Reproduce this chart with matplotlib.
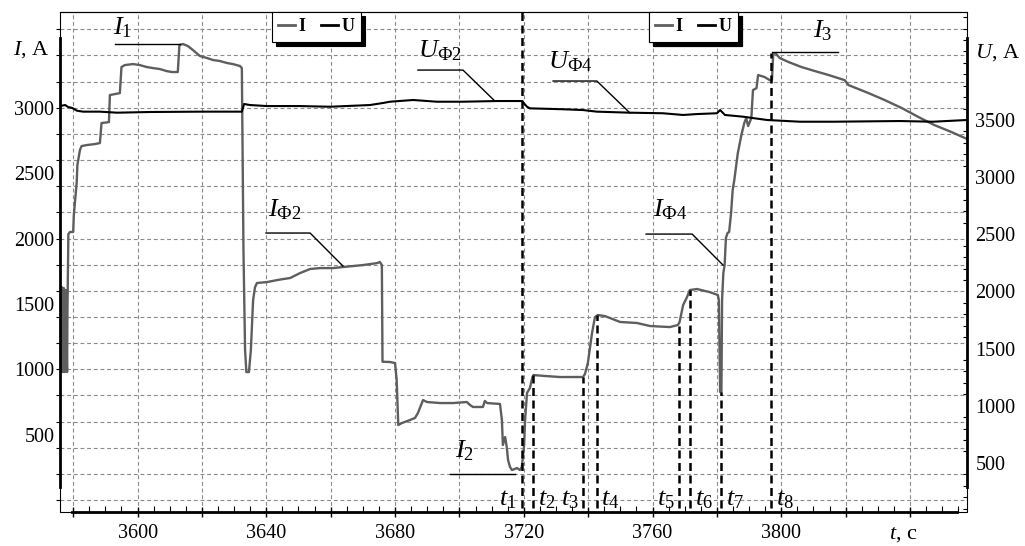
import matplotlib.pyplot as plt
from matplotlib.lines import Line2D
from matplotlib.patches import Rectangle
from matplotlib.ticker import MultipleLocator, FixedLocator, FuncFormatter

plt.rcParams['font.family'] = 'serif'
plt.rcParams['font.serif'] = ['Liberation Serif', 'DejaVu Serif']
plt.rcParams['mathtext.fontset'] = 'custom'
plt.rcParams['mathtext.rm'] = 'Liberation Serif'
plt.rcParams['mathtext.it'] = 'Liberation Serif:italic'
plt.rcParams['mathtext.bf'] = 'Liberation Serif:bold'

# ток I, А (левая ось)
t_i = [3575.9, 3576.2, 3576.5, 3576.8, 3577.1, 3577.4, 3577.7, 3578.1, 3578.2, 3578.5,
       3579.0, 3580.0, 3580.2, 3581.1, 3581.3, 3582.1, 3582.6, 3584.3, 3586.7, 3588.3,
       3588.8, 3591.1, 3591.4, 3594.5, 3595.0, 3596.0, 3598.6, 3600.7, 3602.9, 3604.8,
       3606.9, 3609.1, 3610.7, 3612.5, 3613.0, 3614.1, 3615.6, 3617.2, 3619.4, 3621.6,
       3623.4, 3625.6, 3627.8, 3629.6, 3631.8, 3632.4, 3632.9, 3633.4, 3633.8, 3634.6,
       3635.2, 3635.9, 3636.5, 3637.1, 3640.2, 3643.3, 3645.2, 3647.4, 3650.5, 3653.6,
       3656.7, 3660.7, 3663.8, 3670.0, 3674.4, 3675.3, 3675.9, 3676.1, 3678.4, 3680.0,
       3680.5, 3681.0, 3682.1, 3684.6, 3686.2, 3687.1, 3688.7, 3689.9, 3694.0, 3698.0,
       3702.3, 3703.3, 3704.2, 3707.3, 3707.9, 3708.6, 3712.6, 3713.2, 3713.5, 3714.2,
       3714.7, 3715.1, 3715.7, 3716.3, 3717.9, 3718.8, 3719.4, 3720.1, 3720.4, 3721.0,
       3721.9, 3722.7, 3723.0, 3726.6, 3731.2, 3735.9, 3738.4, 3739.0, 3739.9, 3741.2,
       3742.1, 3743.0, 3745.2, 3746.8, 3749.9, 3755.2, 3759.2, 3765.4, 3767.9, 3768.4,
       3769.5, 3770.7, 3771.6, 3773.8, 3777.8, 3780.3, 3780.6, 3781.0, 3781.4, 3781.6,
       3782.0, 3782.4, 3782.8, 3783.3, 3783.8, 3784.4, 3784.9, 3785.4, 3786.5, 3787.6,
       3788.5, 3789.1, 3789.7, 3790.7, 3791.2, 3792.3, 3792.8, 3794.8, 3796.4, 3797.1,
       3797.5, 3798.2, 3799.5, 3802.3, 3806.3, 3809.4, 3814.7, 3819.7, 3820.9, 3827.1,
       3832.1, 3837.4, 3842.7, 3847.6, 3852.9, 3857.7]
i_a = [1644, 979, 1628, 979, 1621, 979, 1606, 979, 1415, 2034,
       2050, 2050, 2180, 2432, 2562, 2677, 2707, 2715, 2722, 2730,
       2883, 2890, 3097, 3112, 3311, 3326, 3334, 3326, 3311, 3303,
       3296, 3280, 3273, 3273, 3479, 3487, 3472, 3441, 3395, 3380,
       3365, 3357, 3342, 3334, 3319, 3303, 1912, 1147, 979, 979,
       1147, 1530, 1629, 1660, 1667, 1682, 1690, 1698, 1736, 1767,
       1774, 1774, 1782, 1797, 1812, 1820, 1797, 1058, 1056, 1048,
       918, 574, 589, 612, 628, 666, 765, 750, 742, 742,
       750, 727, 712, 712, 758, 742, 735, 612, 421, 482,
       406, 307, 254, 230, 245, 230, 254, 421, 612, 819,
       857, 941, 956, 949, 941, 941, 941, 964, 1048, 1277,
       1399, 1415, 1407, 1392, 1362, 1354, 1331, 1323, 1339, 1362,
       1491, 1552, 1606, 1614, 1590, 1568, 1529, 826, 826, 1529,
       1737, 1798, 2004, 2042, 2050, 2195, 2371, 2447, 2654, 2791,
       2883, 2921, 2860, 2921, 3135, 3150, 3250, 3235, 3211, 3211,
       3417, 3417, 3380, 3349, 3311, 3288, 3250, 3211, 3173, 3112,
       3059, 2998, 2928, 2867, 2814, 2761]

# напряжение U (правая ось)
t_u = [3575.9, 3577.5, 3578.4, 3579.7, 3581.2, 3583.1, 3588.3, 3593.6, 3603.9, 3619.4,
       3632.4, 3633.1, 3634.9, 3640.2, 3650.5, 3659.8, 3672.2, 3676.3, 3678.4, 3685.6,
       3693.0, 3701.1, 3711.7, 3719.4, 3721.0, 3721.9, 3732.2, 3738.4, 3742.7, 3753.0,
       3763.2, 3769.5, 3773.8, 3780.0, 3781.0, 3782.5, 3788.1, 3795.6, 3805.8, 3816.1,
       3836.9, 3847.1, 3857.7]
u_v = [3622, 3631, 3614, 3605, 3581, 3573, 3573, 3564, 3570, 3573,
       3573, 3640, 3631, 3622, 3622, 3616, 3631, 3649, 3660, 3675,
       3660, 3660, 3666, 3666, 3616, 3602, 3594, 3587, 3573, 3564,
       3559, 3544, 3552, 3559, 3587, 3544, 3529, 3500, 3485, 3485,
       3491, 3485, 3500]

# моменты t1..t8 и верх пунктирных линий
t_marks = [3719.3, 3722.9, 3738.5, 3742.6, 3768.3, 3771.6, 3781.2, 3796.8]
t_tops = [3732, 956, 941, 1415, 1331, 1606, 826, 3417]
t_names = [r'$t_%d$' % k for k in range(1, 9)]
t_side = [-1, 1, -1, 1, -1, 1, 1, 1]

x_labels = [3600, 3640, 3680, 3720, 3760, 3800]
i_ticks = [500, 1000, 1500, 2000, 2500, 3000]
u_ticks = [500, 1000, 1500, 2000, 2500, 3000, 3500]

fig = plt.figure(figsize=(10.25, 5.46), dpi=100)
ax = fig.add_axes([60 / 1025, 34 / 546, 907 / 1025, 500 / 546])
ax2 = ax.twinx()

ax.set_xlim(3575.9, 3857.7)
ax.set_ylim(-91, 3732)
ax2.set_ylim(70, 4445)

# сетка
ax.set_axisbelow(True)
ax.xaxis.set_major_locator(MultipleLocator(20))
ax.xaxis.set_minor_locator(MultipleLocator(5))
ax.xaxis.set_major_formatter(FuncFormatter(lambda v, p: '%d' % round(v) if round(v) in x_labels else ''))
ax.yaxis.set_major_locator(FixedLocator(i_ticks))
ax.yaxis.set_minor_locator(MultipleLocator(200))
ax.yaxis.remove_overlapping_locs = False
gkw = dict(color='#8a8a8a', linestyle=(0, (3.5, 2.5)), linewidth=0.8)
ax.xaxis.grid(True, which='major', **gkw)
ax.yaxis.grid(True, which='minor', **gkw)

ax2.yaxis.set_major_locator(FixedLocator(u_ticks))
ax2.yaxis.set_minor_locator(MultipleLocator(100))

ax.tick_params(axis='x', which='major', direction='inout', length=7, width=1, pad=5, labelsize=14.5)
ax.tick_params(axis='x', which='minor', direction='in', length=4, width=0.8)
ax.tick_params(axis='y', which='major', length=0, pad=4, labelsize=14.5)
ax.tick_params(axis='y', which='minor', direction='out', length=3, width=0.8)
ax2.tick_params(axis='y', which='major', length=0, pad=6, labelsize=14.5)
ax2.tick_params(axis='y', which='minor', direction='in', length=3, width=0.8)

ax.spines['right'].set_visible(False)
for s in ['left', 'top', 'bottom']:
    ax2.spines[s].set_visible(False)
ax.spines['top'].set_linewidth(0.8)
ax.spines['left'].set_linewidth(2)
ax.spines['left'].set_bounds(100, 3533)
ax.spines['bottom'].set_linewidth(2)
ax.spines['bottom'].set_bounds(3579.6, 3854.6)
ax2.spines['right'].set_linewidth(2)
ax2.spines['right'].set_bounds(289, 4217)
ax.add_patch(Rectangle((0, 0), 1, 1, transform=ax.transAxes, fill=False,
                       edgecolor='k', linewidth=0.8, clip_on=False))

# кривые
ax.plot(t_i, i_a, color='#5e5e5e', linewidth=1.7)
ax2.plot(t_u, u_v, color='k', linewidth=1.5)

ax.vlines(t_marks, -61, t_tops, colors='k', linestyles=(0, (3.2, 1.8)), linewidth=1.8)
for name, tm, sd in zip(t_names, t_marks, t_side):
    ax.annotate(name, xy=(tm, -91), xytext=(3.5 * sd, 1), textcoords='offset points',
                ha='left' if sd > 0 else 'right', va='bottom', fontsize=19)

# подписи кривых
lab = dict(fontsize=19, ha='left', va='bottom')
ax.plot([3593.0, 3613.2], [3487, 3487], color='k', linewidth=1)
ax.text(3592.4, 3517, r'$I_1$', **lab)
ax.plot([3639.9, 3653.6, 3663.8], [2042, 2042, 1790], color='k', linewidth=1)
ax.text(3640.5, 2126, r'$I_{\mathrm{Ф2}}$', **lab)
ax.plot([3758.0, 3772.3, 3781.9], [2034, 2034, 1797], color='k', linewidth=1)
ax.text(3760.1, 2126, r'$I_{\mathrm{Ф4}}$', **lab)
ax.plot([3697.1, 3717.3], [200, 200], color='k', linewidth=1)
ax.text(3698.6, 284, r'$I_2$', **lab)
ax.plot([3797.1, 3817.6], [3426, 3426], color='k', linewidth=1)
ax.text(3809.8, 3495, r'$I_3$', **lab)
ax2.plot([3687.1, 3701.1, 3711.0], [3937, 3937, 3666], color='k', linewidth=1)
ax2.text(3687.1, 3999, r'$U_{\mathrm{Ф2}}$', **lab)
ax2.plot([3729.1, 3742.7, 3753.0], [3841, 3841, 3561], color='k', linewidth=1)
ax2.text(3727.5, 3902, r'$U_{\mathrm{Ф4}}$', **lab)

# подписи осей
ax.text(-0.011, 0.925, r'$I$, A', transform=ax.transAxes, ha='right', va='center', fontsize=16)
ax.text(1.009, 0.918, r'$U$, A', transform=ax.transAxes, ha='left', va='center', fontsize=16)
ax.text(0.9295, -0.046, r'$t$, c', transform=ax.transAxes, ha='center', va='center', fontsize=16)

# две легенды (склейка двух окон)
h_i = Line2D([], [], color='#5e5e5e', linewidth=2)
h_u = Line2D([], [], color='k', linewidth=2)
for xa in (0.2337, 0.6494):
    leg = ax2.legend([h_i, h_u], ['I', 'U'], loc='upper left', bbox_to_anchor=(xa, 1.0),
                     ncol=2, fancybox=False, edgecolor='k', framealpha=1,
                     shadow={'color': 'k', 'alpha': 1, 'ox': 3, 'oy': -3},
                     borderaxespad=0, borderpad=0.35, handlelength=0.9,
                     handletextpad=0.2, columnspacing=0.9,
                     prop={'weight': 'bold', 'size': 13})
    leg.get_frame().set_linewidth(0.8)
    ax2.add_artist(leg)

plt.savefig('out.png', dpi=100)
